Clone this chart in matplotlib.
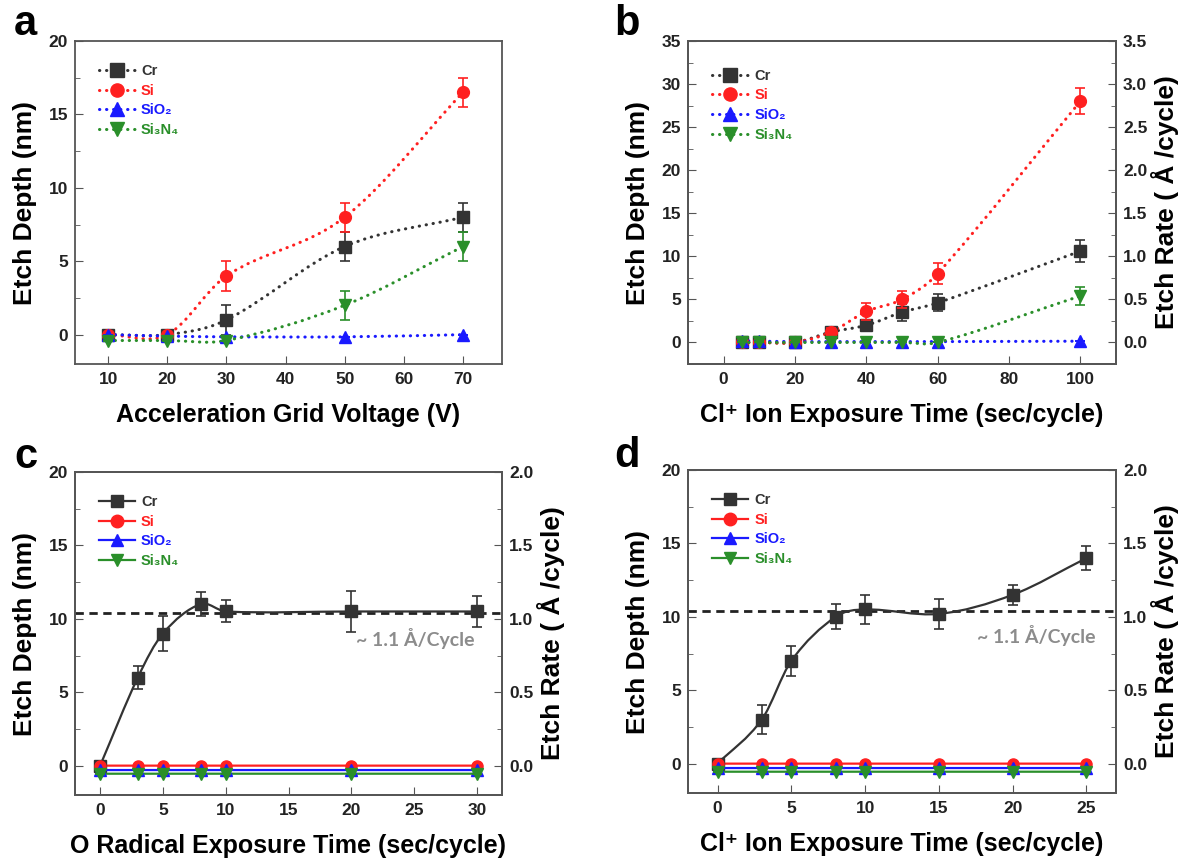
"""Etch depth vs process parameters, four panels (a-d)."""

import numpy as np
import matplotlib

matplotlib.use("Agg")
import matplotlib.pyplot as plt
from matplotlib.path import Path
from matplotlib.patches import PathPatch
from matplotlib.lines import Line2D
from matplotlib.ticker import MultipleLocator, AutoMinorLocator

plt.rcParams.update(
    {
        "font.family": ["Liberation Sans", "DejaVu Sans"],
        "font.weight": "bold",
        "axes.labelweight": "bold",
        "axes.linewidth": 1.3,
        "axes.edgecolor": "#555555",
        "xtick.direction": "in",
        "ytick.direction": "in",
        "xtick.color": "#555555",
        "ytick.color": "#555555",
        "xtick.labelcolor": "#222222",
        "ytick.labelcolor": "#222222",
        "xtick.major.size": 6,
        "ytick.major.size": 6,
        "ytick.minor.size": 3.5,
        "xtick.major.pad": 6,
        "ytick.major.pad": 5,
        "xtick.labelsize": 12.5,
        "ytick.labelsize": 12.5,
    }
)

# ---- data ----
names = ["Cr", "Si", "SiO\u2082", "Si\u2083N\u2084"]
colors = ["#333333", "#ff2020", "#1a1aff", "#2a8f2a"]
markers = ["s", "o", "^", "v"]

# panel a : acceleration grid voltage
xa = [10, 20, 30, 50, 70]
ya = [
    [0.0, 0.0, 1.0, 6.0, 8.0],
    [0.0, 0.0, 4.0, 8.0, 16.5],
    [0.0, -0.1, -0.15, -0.15, 0.0],
    [-0.4, -0.4, -0.4, 2.0, 6.0],
]
ea = [
    [0.1, 0.1, 1.0, 1.0, 1.0],
    [0.1, 0.1, 1.0, 1.0, 1.0],
    [0.0, 0.0, 0.0, 0.0, 0.0],
    [0.0, 0.0, 0.0, 1.0, 1.0],
]

# panel b : Cl+ ion exposure time (long)
xb = [5, 10, 20, 30, 40, 50, 60, 100]
yb = [
    [0.0, 0.0, 0.0, 1.2, 2.0, 3.5, 4.6, 10.6],
    [0.0, 0.0, 0.0, 1.2, 3.6, 5.0, 8.0, 28.0],
    [0.2, 0.15, 0.1, 0.1, 0.1, 0.1, 0.1, 0.15],
    [0.0, 0.0, 0.0, 0.0, 0.0, 0.0, 0.0, 5.4],
]
eb = [
    [0.1, 0.1, 0.1, 0.5, 0.5, 1.0, 1.0, 1.3],
    [0.1, 0.1, 0.1, 0.5, 1.0, 1.0, 1.2, 1.5],
    [0.0, 0.0, 0.0, 0.0, 0.0, 0.0, 0.0, 0.0],
    [0.0, 0.0, 0.0, 0.0, 0.0, 0.0, 0.0, 1.0],
]

# panel c : O radical exposure time
xc = [0, 3, 5, 8, 10, 20, 30]
yc = [
    [0.0, 6.0, 9.0, 11.0, 10.5, 10.5, 10.5],
    [0.0, 0.0, 0.0, 0.0, 0.0, 0.0, 0.0],
    [-0.3, -0.3, -0.3, -0.3, -0.3, -0.3, -0.3],
    [-0.55, -0.55, -0.55, -0.55, -0.55, -0.55, -0.55],
]
ec = [
    [0.0, 0.8, 1.2, 0.8, 0.75, 1.4, 1.05],
    [0, 0, 0, 0, 0, 0, 0],
    [0, 0, 0, 0, 0, 0, 0],
    [0, 0, 0, 0, 0, 0, 0],
]

# panel d : Cl+ ion exposure time (short)
xd = [0, 3, 5, 8, 10, 15, 20, 25]
yd = [
    [0.0, 3.0, 7.0, 10.0, 10.5, 10.2, 11.5, 14.0],
    [0.0, 0.0, 0.0, 0.0, 0.0, 0.0, 0.0, 0.0],
    [-0.3, -0.3, -0.3, -0.3, -0.3, -0.3, -0.3, -0.3],
    [-0.55, -0.55, -0.55, -0.55, -0.55, -0.55, -0.55, -0.55],
]
ed = [
    [0.0, 1.0, 1.0, 0.85, 1.0, 1.0, 0.7, 0.8],
    [0] * 8,
    [0] * 8,
    [0] * 8,
]

rate_level = 10.4
rate_text = "~ 1.1 \u00c5/Cycle"

W, H = 1179, 863
DOTTED = (0, (0.1, 2.2))


def smooth_path(x, y):
    """Cubic Hermite bezier path through the points (drawn by matplotlib)."""
    x = np.asarray(x, float)
    y = np.asarray(y, float)
    n = len(x)
    m = np.zeros(n)
    for i in range(n):
        lo, hi = max(i - 1, 0), min(i + 1, n - 1)
        m[i] = (y[hi] - y[lo]) / (x[hi] - x[lo])
    verts = [(x[0], y[0])]
    codes = [Path.MOVETO]
    for i in range(n - 1):
        dx = x[i + 1] - x[i]
        verts += [
            (x[i] + dx / 3, y[i] + m[i] * dx / 3),
            (x[i + 1] - dx / 3, y[i + 1] - m[i + 1] * dx / 3),
            (x[i + 1], y[i + 1]),
        ]
        codes += [Path.CURVE4] * 3
    return Path(verts, codes)


def make_axes(left, top, right, bottom):
    return fig.add_axes(
        [left / W, 1 - bottom / H, (right - left) / W, (bottom - top) / H]
    )


def draw_panel(ax, x, ys, es, dotted, ms, leg_y=0.97):
    handles = []
    for k in range(4):
        ls = DOTTED if dotted else "-"
        lw = 2.2 if dotted else 1.6
        patch = PathPatch(
            smooth_path(x, ys[k]),
            fill=False,
            edgecolor=colors[k],
            linewidth=lw,
            linestyle=ls,
            capstyle="round",
            zorder=2 + k,
        )
        ax.add_patch(patch)
        ax.errorbar(
            x,
            ys[k],
            yerr=es[k],
            fmt=markers[k],
            color=colors[k],
            ms=ms,
            mec=colors[k],
            elinewidth=1.2,
            capsize=3.5,
            capthick=1.2,
            zorder=3 + k,
        )
        handles.append(
            Line2D(
                [],
                [],
                color=colors[k],
                ls=ls,
                lw=lw,
                marker=markers[k],
                ms=ms + 1,
                dash_capstyle="round",
            )
        )
    leg = ax.legend(
        handles,
        names,
        loc="upper left",
        bbox_to_anchor=(0.025, leg_y),
        frameon=False,
        fontsize=10.5,
        handlelength=2.5,
        handletextpad=0.4,
        labelspacing=0.4,
    )
    for txt, c in zip(leg.get_texts(), colors):
        txt.set_color(c)
        txt.set_fontweight("bold")


def right_axis(ax, ylim, step):
    ax2 = ax.twinx()
    ax2.set_ylim(ylim[0] / 10, ylim[1] / 10)
    ax2.yaxis.set_major_locator(MultipleLocator(step))
    ax2.yaxis.set_minor_locator(AutoMinorLocator(2))
    ax2.yaxis.set_major_formatter(plt.FormatStrFormatter("%.1f"))
    ax2.tick_params(axis="y", which="both", direction="in")
    ax2.set_ylabel("Etch Rate ( \u00c5 /cycle)", fontsize=19, labelpad=3)
    return ax2


def style_axis(ax, xlim, ylim, xstep, ystep):
    ax.set_xlim(*xlim)
    ax.set_ylim(*ylim)
    ax.xaxis.set_major_locator(MultipleLocator(xstep))
    ax.yaxis.set_major_locator(MultipleLocator(ystep))
    ax.yaxis.set_minor_locator(AutoMinorLocator(2))
    ax.tick_params(which="both", top=False, right=False)
    ax.set_ylabel("Etch Depth (nm)", fontsize=19, labelpad=8)


fig = plt.figure(figsize=(W / 100, H / 100), dpi=100)

# panel a
ax_a = make_axes(75, 41, 502, 364)
draw_panel(ax_a, xa, ya, ea, True, 8.5)
style_axis(ax_a, (4.4, 76.6), (-2, 20), 10, 5)
ax_a.set_xlabel("Acceleration Grid Voltage (V)", fontsize=18, labelpad=11)

# panel b
ax_b = make_axes(688, 41, 1116, 364)
draw_panel(ax_b, xb, yb, eb, True, 8.5, leg_y=0.955)
style_axis(ax_b, (-10, 110), (-2.5, 35), 20, 5)
ax_b.set_xlabel("Cl\u207a Ion Exposure Time (sec/cycle)", fontsize=18, labelpad=11)
right_axis(ax_b, (-2.5, 35), 0.5)

# panel c
ax_c = make_axes(75, 472, 502, 795)
draw_panel(ax_c, xc, yc, ec, False, 8)
style_axis(ax_c, (-2, 32), (-2, 20), 5, 5)
ax_c.axhline(rate_level, color="#222222", ls=(0, (3, 2)), lw=2, zorder=1)
ax_c.text(25.1, 8.65, rate_text, color="#8c8c8c", fontsize=14,
          family=["Lato", "DejaVu Sans"], fontweight="bold",
          ha="center", va="center")
ax_c.set_xlabel("O Radical Exposure Time (sec/cycle)", fontsize=18, labelpad=11)
right_axis(ax_c, (-2, 20), 0.5)

# panel d
ax_d = make_axes(688, 470, 1116, 793)
draw_panel(ax_d, xd, yd, ed, False, 8)
style_axis(ax_d, (-2, 27), (-2, 20), 5, 5)
ax_d.axhline(rate_level, color="#222222", ls=(0, (3, 2)), lw=2, zorder=1)
ax_d.text(21.6, 8.75, rate_text, color="#8c8c8c", fontsize=14,
          family=["Lato", "DejaVu Sans"], fontweight="bold",
          ha="center", va="center")
ax_d.set_xlabel("Cl\u207a Ion Exposure Time (sec/cycle)", fontsize=18, labelpad=11)
right_axis(ax_d, (-2, 20), 0.5)

# panel letters
for lbl, px, py in [("a", 14, 35), ("b", 614, 35), ("c", 14, 468), ("d", 614, 467)]:
    fig.text(px / W, 1 - py / H, lbl, fontsize=30, fontweight="bold",
             color="black", ha="left", va="baseline")

fig.savefig("out.png", dpi=100)
